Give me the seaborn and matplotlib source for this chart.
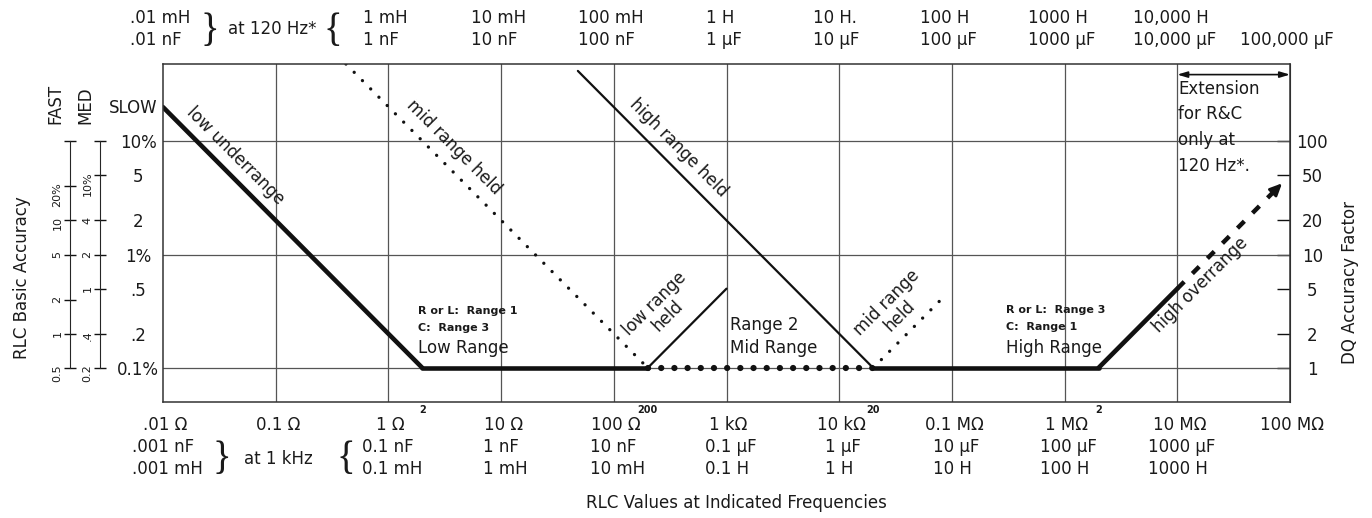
import matplotlib
matplotlib.use("Agg")
import matplotlib.pyplot as plt
import seaborn as sns
from matplotlib.ticker import NullLocator

# ---------------- data ----------------
decades = [1e-2, 1e-1, 1e0, 1e1, 1e2, 1e3, 1e4, 1e5, 1e6, 1e7, 1e8]
ohm_labels = [".01 Ω", "0.1 Ω", "1 Ω", "10 Ω", "100 Ω", "1 kΩ", "10 kΩ",
              "0.1 MΩ", "1 MΩ", "10 MΩ", "100 MΩ"]
khz_labels = [".001 nF\n.001 mH", "", "0.1 nF\n0.1 mH", "1 nF\n1 mH", "10 nF\n10 mH",
              "0.1 µF\n0.1 H", "1 µF\n1 H", "10 µF\n10 H", "100 µF\n100 H",
              "1000 µF\n1000 H", ""]
hz120_labels = [".01 mH\n.01 nF", "", "1 mH\n1 nF", "10 mH\n10 nF", "100 mH\n100 nF",
                "1 H\n1 µF", "10 H.\n10 µF", "100 H\n100 µF", "1000 H\n1000 µF",
                "10,000 H\n10,000 µF", "\n100,000 µF"]
grid_y = [1, 10, 100]

marks_x = [2, 200, 2e4, 2e6]
marks_lbl = ["2", "200", "20", "2"]

slow_ticks = [1, 2, 5, 10, 20, 50, 100]
slow_labels = ["0.1%", ".2", ".5", "1%", "2", "5", "10%"]
dq_ticks = [1, 2, 5, 10, 20, 50, 100]
dq_labels = ["1", "2", "5", "10", "20", "50", "100"]
fast_ticks = [0.5, 1, 2, 5, 10, 20, 50]
fast_labels = ["0.5", "1", "2", "5", "10", "20%", ""]
med_ticks = [0.2, 0.4, 1, 2, 4, 10, 20]
med_labels = ["0.2", ".4", "1", "2", "4", "10%", ""]

low_under_x, low_under_y = [0.01, 2], [200, 1]
low_flat_x, low_flat_y = [2, 200], [1, 1]
low_held_x, low_held_y = [200, 1000], [1, 5]
mid_held1_x, mid_held1_y = [0.42, 200], [480, 1]
mid_flat_x, mid_flat_y = [200, 20000], [1, 1]
high_held_x, high_held_y = [48, 20000], [417, 1]
mid_held2_x, mid_held2_y = [20000, 90000], [1, 4.5]
high_flat_x, high_flat_y = [20000, 2e6], [1, 1]
high_over_x, high_over_y = [2e6, 1e7], [1, 5]
ext_x, ext_y = [1e7, 7.0e7, 8.5e7], [5, 35, 42.5]

# ---------------- figure ----------------
sns.set_style("white")
plt.rcParams["font.family"] = ["DejaVu Sans"]
plt.rcParams["font.size"] = 12

W, H = 1372, 518
fig = plt.figure(figsize=(W / 100, H / 100), dpi=100)
ax = fig.add_axes([163 / W, 1 - 402 / H, (1290 - 163) / W, (402 - 64) / H])
ax.set_xscale("log")
ax.set_yscale("log")
ax.set_xlim(1e-2, 1e8)
ax.set_ylim(0.5, 480)

INK = "#111111"
TXT = "#1a1a1a"
GRID = "#555555"
for v in decades[1:-1]:
    ax.axvline(v, color=GRID, lw=0.9, zorder=1)
for v in grid_y:
    ax.axhline(v, color=GRID, lw=0.9, zorder=1)

thick = dict(color=INK, lw=3.3, solid_capstyle="round")
thin = dict(color=INK, lw=1.6)
sdot = dict(color=INK, lw=2.4, linestyle=(0, (0.01, 3.5)), dash_capstyle="round")
bdot = dict(color=INK, lw=4.5, linestyle=(0, (0.01, 2.1)), dash_capstyle="round")

sns.lineplot(x=low_under_x, y=low_under_y, ax=ax, **thick)
sns.lineplot(x=low_flat_x, y=low_flat_y, ax=ax, **thick)
sns.lineplot(x=low_held_x, y=low_held_y, ax=ax, **thin)
sns.lineplot(x=mid_held1_x, y=mid_held1_y, ax=ax, **sdot)
sns.lineplot(x=mid_flat_x, y=mid_flat_y, ax=ax, **bdot)
sns.lineplot(x=high_held_x, y=high_held_y, ax=ax, **thin)
sns.lineplot(x=mid_held2_x, y=mid_held2_y, ax=ax, **sdot)
sns.lineplot(x=high_flat_x, y=high_flat_y, ax=ax, **thick)
sns.lineplot(x=high_over_x, y=high_over_y, ax=ax, **thick)
sns.lineplot(x=ext_x[:2], y=ext_y[:2], ax=ax, color=INK, lw=3.2,
             linestyle=(0, (2.2, 2.6)))
ax.annotate("", xy=(ext_x[2], ext_y[2]), xytext=(ext_x[1], ext_y[1]),
            arrowprops=dict(arrowstyle="-|>,head_length=0.6,head_width=0.28",
                            color=INK, lw=2.0, shrinkA=0, shrinkB=0))
# extension span arrow
ax.annotate("", xy=(decades[-2], 387), xytext=(decades[-1], 387),
            arrowprops=dict(arrowstyle="<|-|>,head_length=0.5,head_width=0.15",
                            color=INK, lw=1.2, shrinkA=0, shrinkB=0))

# ---------------- in-plot text ----------------
tk = dict(color=TXT)
ax.text(0.044, 74, "low underrange", rotation=-45, ha="center", va="center", fontsize=12, **tk)
ax.text(3.8, 88, "mid range held", rotation=-45, ha="center", va="center", fontsize=12, **tk)
ax.text(372, 88, "high range held", rotation=-45, ha="center", va="center", fontsize=12, **tk)
ax.text(262, 3.25, "low range\nheld", rotation=45, ha="center", va="center",
        fontsize=12, linespacing=1.0, **tk)
ax.text(30000, 3.3, "mid range\nheld", rotation=45, ha="center", va="center",
        fontsize=12, linespacing=1.0, **tk)
ax.text(1.6e7, 5.4, "high overrange", rotation=45, ha="center", va="center", fontsize=12, **tk)

ax.text(1.83, 3.19, "R or L:  Range 1", fontsize=8, fontweight="bold", va="center", **tk)
ax.text(1.83, 2.26, "C:  Range 3", fontsize=8, fontweight="bold", va="center", **tk)
ax.text(1.83, 1.50, "Low Range", fontsize=12, va="center", **tk)
ax.text(1070, 2.4, "Range 2", fontsize=12, va="center", **tk)
ax.text(1070, 1.50, "Mid Range", fontsize=12, va="center", **tk)
ax.text(3.0e5, 3.25, "R or L:  Range 3", fontsize=8, fontweight="bold", va="center", **tk)
ax.text(3.0e5, 2.30, "C:  Range 1", fontsize=8, fontweight="bold", va="center", **tk)
ax.text(3.0e5, 1.50, "High Range", fontsize=12, va="center", **tk)
ax.text(1.02e7, 350, "Extension\nfor R&C\nonly at\n120 Hz*.", fontsize=12,
        va="top", ha="left", linespacing=1.55, **tk)

# ---------------- axes / ticks ----------------
for s in ax.spines.values():
    s.set_color("#333333")
    s.set_linewidth(1.1)

ax.set_xticks(decades)
ax.set_xticklabels([""] * len(decades))
ax.tick_params(axis="x", which="major", length=0)
ax.set_xticks(marks_x, minor=True)
ax.set_xticklabels(marks_lbl, minor=True)
ax.tick_params(axis="x", which="minor", direction="in", length=9, width=1,
               labelsize=7, pad=2, color=INK, labelcolor=TXT)
for t in ax.get_xticklabels(minor=True):
    t.set_fontweight("bold")

ax.set_yticks(slow_ticks)
ax.set_yticklabels(slow_labels)
ax.yaxis.set_minor_locator(NullLocator())
ax.tick_params(axis="y", which="major", direction="in", length=9.5, width=1,
               labelsize=12, pad=18, color=INK, labelcolor=TXT)
for t in ax.get_yticklabels():
    t.set_horizontalalignment("center")

sec_r = ax.secondary_yaxis("right")
sec_r.set_yticks(dq_ticks)
sec_r.set_yticklabels(dq_labels)
sec_r.yaxis.set_minor_locator(NullLocator())
sec_r.tick_params(axis="y", direction="in", length=9.5, width=1, labelsize=12,
                  pad=16, color=INK, labelcolor=TXT)
for t in sec_r.get_yticklabels():
    t.set_horizontalalignment("center")

sec_f = ax.secondary_yaxis((70 - 163) / (1290 - 163),
                           functions=(lambda v: 0.5 * v, lambda v: v / 0.5))
sec_f.set_yticks(fast_ticks)
sec_f.set_yticklabels(fast_labels)
sec_f.yaxis.set_minor_locator(NullLocator())
sec_f.tick_params(axis="y", direction="inout", length=9, width=1, labelsize=8,
                  labelrotation=90, pad=1, color=INK, labelcolor=TXT)
sec_f.spines["left"].set_bounds(fast_ticks[0], fast_ticks[-1])

sec_m = ax.secondary_yaxis((100 - 163) / (1290 - 163),
                           functions=(lambda v: 0.2 * v, lambda v: v / 0.2))
sec_m.set_yticks(med_ticks)
sec_m.set_yticklabels(med_labels)
sec_m.yaxis.set_minor_locator(NullLocator())
sec_m.tick_params(axis="y", direction="inout", length=9, width=1, labelsize=8,
                  labelrotation=90, pad=1, color=INK, labelcolor=TXT)
sec_m.spines["left"].set_bounds(med_ticks[0], med_ticks[-1])

# ---------------- outer tick label rows ----------------
bx = ("data", "axes fraction")
for v, lab in zip(decades, ohm_labels):
    ax.annotate(lab, xy=(v, 0), xycoords=bx, xytext=(2, -23),
                textcoords="offset pixels", ha="center", va="center", fontsize=12, **tk)
for v, lab in zip(decades, khz_labels):
    if lab:
        ax.annotate(lab, xy=(v, 0), xycoords=bx, xytext=(4, -56),
                    textcoords="offset pixels", ha="center", va="center",
                    multialignment="left", fontsize=12, linespacing=1.25, **tk)
for v, lab in zip(decades, hz120_labels):
    if lab:
        ax.annotate(lab, xy=(v, 1), xycoords=bx, xytext=(-3, 35),
                    textcoords="offset pixels", ha="center", va="center",
                    multialignment="left", fontsize=12, linespacing=1.3, **tk)

ax.annotate("at 120 Hz*", xy=(decades[1], 1), xycoords=bx, xytext=(-3, 35),
            textcoords="offset pixels", ha="center", va="center", fontsize=12, **tk)
ax.annotate("at 1 kHz", xy=(decades[1], 0), xycoords=bx, xytext=(3, -57),
            textcoords="offset pixels", ha="center", va="center", fontsize=12, **tk)
brace = dict(family="Liberation Serif", fontsize=28, ha="center", va="center",
             textcoords="offset pixels", xycoords=bx, color=TXT)
ax.annotate("}", xy=(decades[1], 1), xytext=(-66, 33), **brace)
ax.annotate("{", xy=(decades[1], 1), xytext=(57, 33), **brace)
ax.annotate("}", xy=(decades[1], 0), xytext=(-54, -57), **brace)
ax.annotate("{", xy=(decades[1], 0), xytext=(70, -57), **brace)

# ---------------- outer labels ----------------
fig.text(157 / W, 1 - 108 / H, "SLOW", ha="right", va="center", fontsize=12, **tk)
fig.text(55 / W, 1 - 124 / H, "FAST", rotation=90, ha="center", va="bottom", fontsize=12, **tk)
fig.text(85 / W, 1 - 124 / H, "MED", rotation=90, ha="center", va="bottom", fontsize=12, **tk)
fig.text(22 / W, 1 - 278 / H, "RLC Basic Accuracy", rotation=90, ha="center",
         va="center", fontsize=12, **tk)
fig.text(1350 / W, 1 - 282 / H, "DQ Accuracy Factor", rotation=90, ha="center",
         va="center", fontsize=12, **tk)
fig.text(736 / W, 1 - 503 / H, "RLC Values at Indicated Frequencies", ha="center",
         va="center", fontsize=12, **tk)

fig.savefig("out.png", dpi=100)
